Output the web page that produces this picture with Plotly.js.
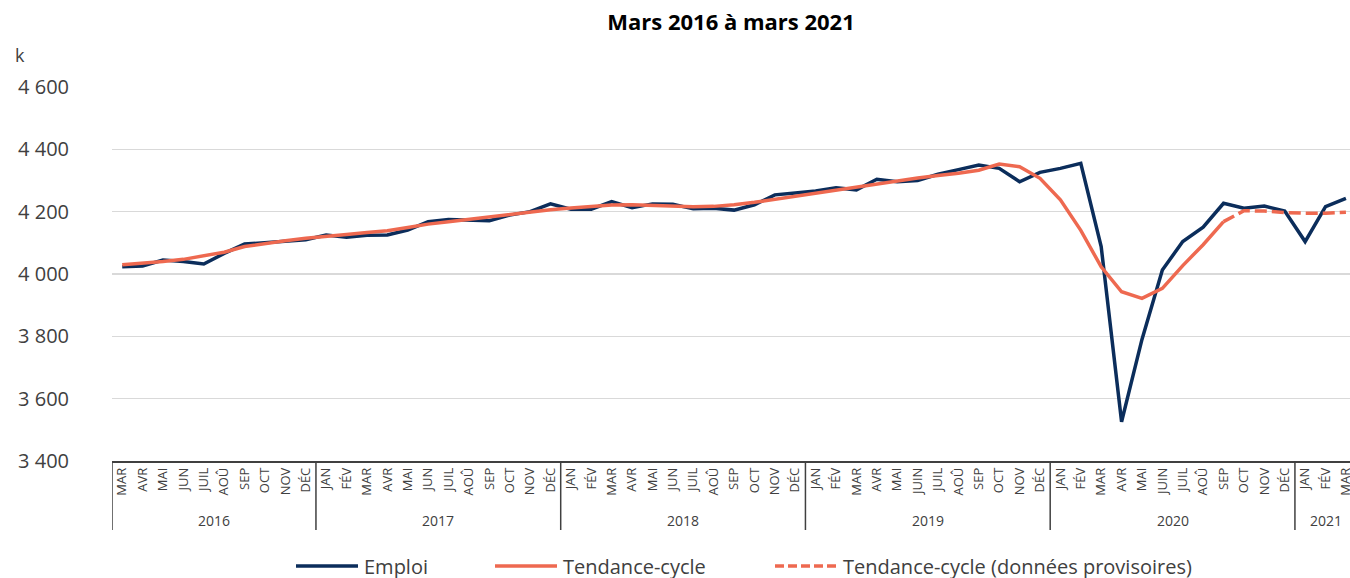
<!DOCTYPE html>
<html>
<head>
<meta charset="utf-8">
<script src="https://cdn.plot.ly/plotly-3.0.1.min.js"></script>
<style>html,body{margin:0;padding:0;background:#fff;}#chart{width:1350px;height:578px;}</style>
</head>
<body>
<div id="chart"></div>
<script>
// Month labels per year
const months2016 = ['MAR','AVR','MAI','JUN','JUIL','AOÛ','SEP','OCT','NOV','DÉC'];
const months2017 = ['JAN','FÉV','MAR','AVR','MAI','JUN','JUIL','AOÛ','SEP','OCT','NOV','DÉC'];
const months2018 = ['JAN','FÉV','MAR','AVR','MAI','JUN','JUIL','AOÛ','SEP','OCT','NOV','DÉC'];
const months2019 = ['JAN','FÉV','MAR','AVR','MAI','JUIN','JUIL','AOÛ','SEP','OCT','NOV','DÉC'];
const months2020 = ['JAN','FÉV','MAR','AVR','MAI','JUIN','JUIL','AOÛ','SEP','OCT','NOV','DÉC'];
const months2021 = ['JAN','FÉV','MAR'];
const years = ['2016','2017','2018','2019','2020','2021'];
const seriesNames = ['Emploi', 'Tendance-cycle', 'Tendance-cycle (données provisoires)'];

// Emploi (thousands)
const emploi = [
  4023,4026,4045,4040,4032,4066,4096,4100,4105,4110,
  4125,4118,4124,4125,4141,4168,4175,4173,4171,4189,4200,4225,
  4208,4208,4232,4213,4225,4224,4209,4211,4205,4222,4254,4260,
  4266,4277,4270,4304,4296,4300,4320,4335,4350,4339,4296,4326,
  4339,4355,4088,3526,3790,4013,4104,4150,4227,4211,4218,4202,
  4104,4216,4243
];
// Tendance-cycle (final values; null where provisional)
const tendance = [
  4030,4034,4040,4047,4058,4070,4088,4098,4107,4115,
  4122,4127,4133,4139,4149,4160,4168,4176,4183,4191,4199,4206,
  4212,4217,4221,4222,4220,4218,4216,4217,4222,4230,4240,4250,
  4260,4270,4280,4290,4300,4308,4316,4323,4333,4353,4344,4307,
  4238,4140,4023,3943,3922,3954,4027,4094,4168,null,null,null,
  null,null,null
];
// Tendance-cycle (provisional values)
const tendanceProv = [
  null,null,null,null,null,null,null,null,null,null,
  null,null,null,null,null,null,null,null,null,null,null,null,
  null,null,null,null,null,null,null,null,null,null,null,null,
  null,null,null,null,null,null,null,null,null,null,null,null,
  null,null,null,null,null,null,null,null,4168,4203,4202,4197,
  4195,4195,4198
];

const monthGroups = [months2016,months2017,months2018,months2019,months2020,months2021];
const xMonth = [].concat(...monthGroups);
const xIdx = xMonth.map((_, i) => i);

const PLOT_L = 112, PLOT_W = 1238, PLOT_B = 461, PLOT_H = 374;
const px = x => (x - PLOT_L) / PLOT_W;   // pixel -> paper x
const py = y => (PLOT_B - y) / PLOT_H;   // pixel -> paper y

const navy = '#0b2d5b';
const coral = '#ee6950';
const font = 'Open Sans, Noto Sans, sans-serif';
const provDash = '12px,5px';

// year group boundaries and labels (derived from the month groups)
const shapes = [], annotations = [];
let start = 0;
monthGroups.forEach((ms, k) => {
  shapes.push({type: 'line', xref: 'x', yref: 'paper', x0: start - 0.5, x1: start - 0.5,
               y0: 0, y1: py(530), line: {color: '#404040', width: 1.5}});
  annotations.push({text: years[k], xref: 'x', yref: 'paper', x: start + (ms.length - 1) / 2,
                    y: py(520), xanchor: 'center', yanchor: 'middle', showarrow: false,
                    font: {family: font, size: 14, color: '#404040'}});
  start += ms.length;
});

const traces = [
  {x: xIdx, y: emploi, type: 'scatter', mode: 'lines', name: seriesNames[0],
   line: {color: navy, width: 3.5}},
  {x: xIdx, y: tendance, type: 'scatter', mode: 'lines', name: seriesNames[1],
   line: {color: coral, width: 3.5}},
  {x: xIdx, y: tendanceProv, type: 'scatter', mode: 'lines', name: seriesNames[2],
   line: {color: coral, width: 3.5, dash: provDash}}
];

// legend (drawn as line samples + labels, Excel style with long samples)
const legendStyles = [
  {color: navy, dash: 'solid', x: 296},
  {color: coral, dash: 'solid', x: 495},
  {color: coral, dash: '9px,4px', x: 775}
];
legendStyles.forEach((s, i) => {
  shapes.push({type: 'line', xref: 'paper', yref: 'paper', x0: px(s.x), x1: px(s.x + 62),
               y0: py(566), y1: py(566), line: {color: s.color, width: 3.5, dash: s.dash}});
  annotations.push({text: seriesNames[i], xref: 'paper', yref: 'paper', x: px(s.x + 66), y: py(566),
                    xanchor: 'left', yanchor: 'middle', showarrow: false,
                    font: {family: font, size: 20, color: '#404040'}});
});

annotations.push({text: 'k', xref: 'paper', yref: 'paper', x: px(13), y: py(55),
  xanchor: 'left', yanchor: 'middle', showarrow: false,
  font: {family: font, size: 18, color: '#404040'}});

const layout = {
  width: 1350, height: 578,
  margin: {l: 112, r: 0, t: 87, b: 117, autoexpand: false},
  paper_bgcolor: '#fff', plot_bgcolor: '#fff',
  separators: ', ',
  font: {family: font, color: '#404040'},
  title: {text: '<b>Mars 2016 à mars 2021</b>', font: {family: font, size: 22, color: '#000'},
          x: 0.5, xref: 'paper', xanchor: 'center', y: 1 - 22/578, yanchor: 'middle'},
  showlegend: false,
  xaxis: {
    type: 'linear',
    range: [-0.5, 60.2],
    tickmode: 'array', tickvals: xIdx, ticktext: xMonth,
    tickangle: -90,
    tickfont: {family: font, size: 13, color: '#404040'},
    showline: true, linecolor: '#404040', linewidth: 1.5,
    showgrid: false, zeroline: false, ticks: '',
    automargin: false, ticklabeloverflow: 'allow'
  },
  yaxis: {
    range: [3400, 4600], dtick: 200, tick0: 3400,
    tickformat: ',d',
    tickfont: {family: font, size: 20, color: '#404040'},
    gridcolor: '#d9d9d9', gridwidth: 1.2,
    zeroline: false, showline: false, ticks: '', ticklabelstandoff: 42,
    automargin: false
  },
  shapes: shapes,
  annotations: annotations
};

Plotly.newPlot('chart', traces, layout, {displayModeBar: false, staticPlot: true});
</script>
</body>
</html>
